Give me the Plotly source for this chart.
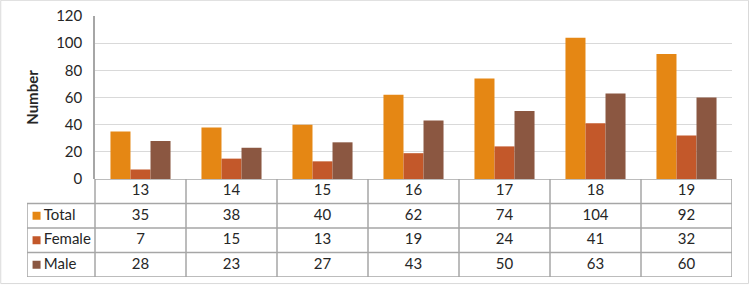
import plotly.graph_objects as go

categories = ["13", "14", "15", "16", "17", "18", "19"]
series_names = ["Total", "Female", "Male"]
total = [35, 38, 40, 62, 74, 104, 92]
female = [7, 15, 13, 19, 24, 41, 32]
male = [28, 23, 27, 43, 50, 63, 60]
y_ticks = [0, 20, 40, 60, 80, 100, 120]

values = [total, female, male]
colors = ["#E58714", "#C3582A", "#8B5741"]

W, H = 750, 285
FONT = "Lato, Open Sans, sans-serif"
GRID = "#D9D9D9"
BORDER = "#A6A6A6"
TXT = "#262626"
FS = 15

# pixel layout
px_left, px_right = 95, 732
px_label_left = 27
px_plot_top, px_zero, px_table_bottom = 16, 179, 277

n = len(categories)
cat_w = (px_right - px_left) / n
label_w = (px_left - px_label_left) / cat_w

fig = go.Figure()

for name, vals, col in zip(series_names, values, colors):
    fig.add_trace(go.Bar(x=list(range(n)), y=vals, name=name, marker_color=col,
                         marker_line_width=0, xaxis="x", yaxis="y", showlegend=False))

# table rows top -> bottom: header(3..4), Total(2..3), Female(1..2), Male(0..1)
nrows = 1 + len(series_names)
fig.add_trace(go.Scatter(x=list(range(n)), y=[nrows - 0.5] * n, text=categories,
                         mode="text", textfont=dict(family=FONT, size=FS, color=TXT),
                         xaxis="x2", yaxis="y2", showlegend=False, hoverinfo="skip"))
for r, (name, vals, col) in enumerate(zip(series_names, values, colors)):
    yc = nrows - 1.5 - r
    fig.add_trace(go.Scatter(x=list(range(n)), y=[yc] * n, text=[str(v) for v in vals],
                             mode="text", textfont=dict(family=FONT, size=FS, color=TXT),
                             xaxis="x2", yaxis="y2", showlegend=False, hoverinfo="skip"))
    fig.add_trace(go.Scatter(x=[-0.5 - label_w + 0.105], y=[yc], mode="markers",
                             marker=dict(symbol="square", size=8, color=col, line=dict(width=0)),
                             xaxis="x2", yaxis="y2", showlegend=False, hoverinfo="skip"))
    fig.add_trace(go.Scatter(x=[-0.5 - label_w + 0.185], y=[yc], text=[name], mode="text",
                             textposition="middle right",
                             textfont=dict(family=FONT, size=FS, color=TXT),
                             xaxis="x2", yaxis="y2", showlegend=False, hoverinfo="skip"))

shapes = []
lw = 1.5
x_lo = -0.5 - label_w
for k in range(nrows + 1):
    x0 = x_lo if k < nrows else -0.5
    shapes.append(dict(type="line", xref="x2", yref="y2", x0=x0, x1=n - 0.5,
                       y0=k, y1=k, line=dict(color=BORDER, width=lw)))
for i in range(n + 1):
    shapes.append(dict(type="line", xref="x2", yref="y2", x0=i - 0.5, x1=i - 0.5,
                       y0=0, y1=nrows, line=dict(color=BORDER, width=lw)))
shapes.append(dict(type="line", xref="x2", yref="y2", x0=x_lo, x1=x_lo,
                   y0=0, y1=nrows - 1, line=dict(color=BORDER, width=lw)))
shapes.append(dict(type="rect", xref="paper", yref="paper", x0=0.001, x1=0.998,
                   y0=0.005, y1=0.999, line=dict(color="#D9D9D9", width=1)))

fig.update_layout(
    template="none",
    width=W, height=H, margin=dict(l=0, r=0, t=0, b=0, autoexpand=False),
    paper_bgcolor="white", plot_bgcolor="white", showlegend=False,
    barmode="group", bargap=0.34, bargroupgap=0,
    shapes=shapes,
    xaxis=dict(domain=[px_left / W, px_right / W], range=[-0.5, n - 0.5],
               showticklabels=False, showgrid=False, zeroline=False, ticks="",
               showline=False, anchor="y", automargin=False),
    yaxis=dict(domain=[(H - px_zero) / H, (H - px_plot_top) / H], range=[0, 120],
               tickvals=y_ticks, showgrid=True, gridcolor=GRID, gridwidth=1,
               zeroline=False, showline=True, linecolor=BORDER, linewidth=lw,
               ticks="", ticklabelstandoff=8, automargin=False,
               tickfont=dict(family=FONT, size=FS, color=TXT), anchor="x",
               title=dict(text="<b>Number</b>", font=dict(family=FONT, size=FS, color=TXT),
                          standoff=14)),
    xaxis2=dict(domain=[px_label_left / W, px_right / W], range=[x_lo, n - 0.5],
                visible=False, anchor="y2", automargin=False),
    yaxis2=dict(domain=[(H - px_table_bottom) / H, (H - px_zero) / H], range=[0, nrows],
                visible=False, anchor="x2", automargin=False),
)

fig.write_html("out.html")
